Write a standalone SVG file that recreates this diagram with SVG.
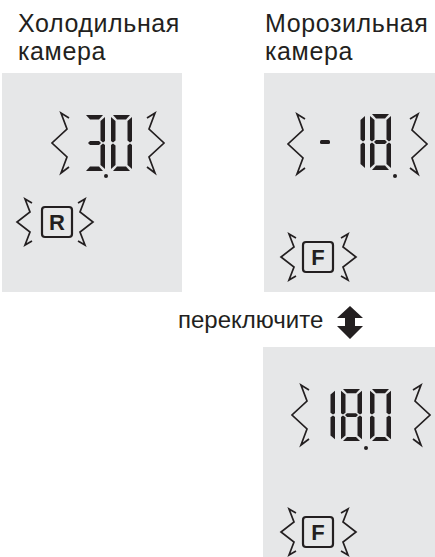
<svg xmlns="http://www.w3.org/2000/svg" xmlns:xlink="http://www.w3.org/1999/xlink" width="435" height="557" viewBox="0 0 435 557">
<style>
.panel{fill:#e6e7e8}
.lbl{font-family:"Liberation Sans",Arial,sans-serif;font-size:25px;letter-spacing:0.6px;fill:#231f20}
.sw{font-family:"Liberation Sans",Arial,sans-serif;font-size:24px;fill:#231f20}
.seg{fill:#231f20}
.sq{fill:none;stroke:#231f20;stroke-width:1.7;stroke-linejoin:miter}
.box{fill:none;stroke:#231f20;stroke-width:2.2}
.key{font-family:"Liberation Sans",Arial,sans-serif;font-size:22px;font-weight:bold;fill:#231f20;text-anchor:middle}
</style>
<defs>
<polygon id="sa" points="2,0 19,0 15,4.5 6,4.5"/>
<polygon id="sb" points="21,2 21,26 19,27.5 16.5,25.5 16.5,6"/>
<polygon id="sc" points="21,30 21,54 16.5,50 16.5,30.5 19,28.5"/>
<polygon id="sd" points="6,51.5 15,51.5 19,56 2,56"/>
<polygon id="se" points="0,30 2,28.5 4.5,30.5 4.5,50 0,54"/>
<polygon id="sf" points="0,2 4.5,6 4.5,25.5 2,27.5 0,26"/>
<polygon id="sg" points="4,28 6,26 15,26 17,28 15,30 6,30"/>
<path id="bl" d="M17,5 L9,0 L15,16 L0,30 L15,44 L9,60 L17,54"/>
<path id="br" d="M0,5 L8,0 L2,16 L17,30 L2,44 L8,60 L0,54"/>
<path id="sl" d="M15,4 L8,0 L13,13 L0,23 L13,33 L8,46 L15,42"/>
<path id="sr" d="M0,4 L7,0 L2,13 L15,23 L2,33 L7,46 L0,42"/>
</defs>

<g id="label-fridge">
<text class="lbl" x="18" y="32">Холодильная<tspan x="18" dy="28">камера</tspan></text>
</g>
<g id="label-freezer">
<text class="lbl" x="265" y="32">Морозильная<tspan x="265" dy="28">камера</tspan></text>
</g>

<g id="panel-fridge">
<rect class="panel" x="2" y="73" width="180" height="219"/>
<use xlink:href="#bl" class="sq" x="52" y="113"/>
<use xlink:href="#br" class="sq" x="147" y="113"/>
<g class="seg" transform="translate(84,115)">
<use xlink:href="#sa"/><use xlink:href="#sb"/><use xlink:href="#sg"/><use xlink:href="#sc"/><use xlink:href="#sd"/>
</g>
<g class="seg" transform="translate(111,115)">
<use xlink:href="#sa"/><use xlink:href="#sb"/><use xlink:href="#sc"/><use xlink:href="#sd"/><use xlink:href="#se"/><use xlink:href="#sf"/>
</g>
<circle class="seg" cx="106" cy="176" r="2"/>
<use xlink:href="#sl" class="sq" x="17" y="199"/>
<use xlink:href="#sr" class="sq" x="78" y="199"/>
<rect class="box" x="42" y="207" width="30" height="30" rx="3"/>
<text class="key" x="57" y="230">R</text>
</g>

<g id="panel-freezer">
<rect class="panel" x="264" y="73" width="171" height="219"/>
<use xlink:href="#bl" class="sq" x="288" y="114"/>
<use xlink:href="#br" class="sq" x="410" y="114"/>
<rect class="seg" x="320" y="140" width="10" height="4" rx="1.5"/>
<g class="seg" transform="translate(344,114)">
<use xlink:href="#sb"/><use xlink:href="#sc"/>
</g>
<g class="seg" transform="translate(370,114)">
<use xlink:href="#sa"/><use xlink:href="#sb"/><use xlink:href="#sc"/><use xlink:href="#sd"/><use xlink:href="#se"/><use xlink:href="#sf"/><use xlink:href="#sg"/>
</g>
<circle class="seg" cx="395" cy="176" r="2"/>
<use xlink:href="#sl" class="sq" x="281" y="234"/>
<use xlink:href="#sr" class="sq" x="341" y="234"/>
<rect class="box" x="303" y="242" width="30" height="30" rx="3"/>
<text class="key" x="318" y="265">F</text>
</g>

<g id="switch">
<text class="sw" x="178" y="328">переключите</text>
<path class="seg" d="M350,306 L363,318 L355,318 L355,326 L363,326 L350,339 L337,326 L345,326 L345,318 L337,318 Z"/>
</g>

<g id="panel-freezer-switched">
<rect class="panel" x="263" y="347" width="172" height="210"/>
<use xlink:href="#bl" class="sq" x="292" y="385"/>
<use xlink:href="#br" class="sq" x="413" y="385"/>
<g class="seg" transform="translate(314,389) scale(1,0.93)">
<use xlink:href="#sb"/><use xlink:href="#sc"/>
</g>
<g class="seg" transform="translate(341,389) scale(1,0.93)">
<use xlink:href="#sa"/><use xlink:href="#sb"/><use xlink:href="#sc"/><use xlink:href="#sd"/><use xlink:href="#se"/><use xlink:href="#sf"/><use xlink:href="#sg"/>
</g>
<g class="seg" transform="translate(370,389) scale(1,0.93)">
<use xlink:href="#sa"/><use xlink:href="#sb"/><use xlink:href="#sc"/><use xlink:href="#sd"/><use xlink:href="#se"/><use xlink:href="#sf"/>
</g>
<circle class="seg" cx="366" cy="448" r="2"/>
<use xlink:href="#sl" class="sq" x="281" y="509"/>
<use xlink:href="#sr" class="sq" x="341" y="509"/>
<rect class="box" x="303" y="517" width="30" height="30" rx="3"/>
<text class="key" x="318" y="540">F</text>
</g>
</svg>
